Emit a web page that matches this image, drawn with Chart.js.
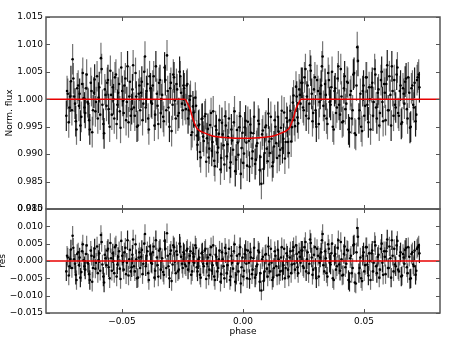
<!DOCTYPE html>
<html>
<head>
<meta charset="utf-8">
<script src="https://cdn.jsdelivr.net/npm/chart.js@4.4.0/dist/chart.umd.min.js"></script>
<style>
  html, body { margin: 0; padding: 0; background: #fff; }
  #wrap { position: relative; width: 463px; height: 348px; }
  #wrap canvas { position: absolute; left: 0; top: 0; }
</style>
</head>
<body>
<div id="wrap">
  <canvas id="fluxChart" width="463" height="348"></canvas>
  <canvas id="resChart" width="463" height="348"></canvas>
</div>
<script>
// first visit: phase, normalised flux, residual (data - model)
var PHASE_1 = [
  -0.0730, -0.0724, -0.0717, -0.0711, -0.0704, -0.0698, -0.0691, -0.0685, -0.0678, -0.0672,
  -0.0665, -0.0659, -0.0652, -0.0646, -0.0639, -0.0633, -0.0626, -0.0620, -0.0613, -0.0607,
  -0.0600, -0.0594, -0.0587, -0.0581, -0.0574, -0.0568, -0.0561, -0.0555, -0.0548, -0.0542,
  -0.0535, -0.0529, -0.0522, -0.0516, -0.0509, -0.0503, -0.0496, -0.0490, -0.0483, -0.0477,
  -0.0470, -0.0464, -0.0457, -0.0451, -0.0444, -0.0438, -0.0431, -0.0425, -0.0418, -0.0412,
  -0.0405, -0.0399, -0.0392, -0.0386, -0.0379, -0.0373, -0.0366, -0.0360, -0.0353, -0.0347,
  -0.0340, -0.0334, -0.0327, -0.0321, -0.0314, -0.0308, -0.0301, -0.0295, -0.0288, -0.0282,
  -0.0275, -0.0269, -0.0262, -0.0256, -0.0249,
  -0.0243, -0.0236, -0.0230, -0.0223, -0.0217, -0.0210, -0.0204, -0.0197, -0.0191, -0.0184,
  -0.0178, -0.0171, -0.0165, -0.0158, -0.0152, -0.0145, -0.0139, -0.0132, -0.0126, -0.0119,
  -0.0113, -0.0106, -0.0100, -0.0093, -0.0087, -0.0080, -0.0074, -0.0067, -0.0061, -0.0054,
  -0.0048, -0.0041, -0.0035, -0.0028, -0.0022, -0.0015, -0.0009, -0.0002, 0.0004, 0.0011,
  0.0017, 0.0024, 0.0030, 0.0037, 0.0043, 0.0050, 0.0056, 0.0063, 0.0069, 0.0076,
  0.0082, 0.0089, 0.0095, 0.0102, 0.0108, 0.0115, 0.0121, 0.0128, 0.0134, 0.0141,
  0.0147, 0.0154, 0.0160, 0.0167, 0.0173, 0.0180, 0.0186, 0.0193, 0.0199, 0.0206,
  0.0212, 0.0219, 0.0225, 0.0232, 0.0238,
  0.0245, 0.0251, 0.0258, 0.0264, 0.0271, 0.0277, 0.0284, 0.0290, 0.0297, 0.0303,
  0.0310, 0.0316, 0.0323, 0.0329, 0.0336, 0.0342, 0.0349, 0.0355, 0.0362, 0.0368,
  0.0375, 0.0381, 0.0388, 0.0394, 0.0401, 0.0407, 0.0414, 0.0420, 0.0427, 0.0433,
  0.0440, 0.0446, 0.0453, 0.0459, 0.0466, 0.0472, 0.0479, 0.0485, 0.0492, 0.0498,
  0.0505, 0.0511, 0.0518, 0.0524, 0.0531, 0.0537, 0.0544, 0.0550, 0.0557, 0.0563,
  0.0570, 0.0576, 0.0583, 0.0589, 0.0596, 0.0602, 0.0609, 0.0615, 0.0622, 0.0628,
  0.0635, 0.0641, 0.0648, 0.0654, 0.0661, 0.0667, 0.0674, 0.0680, 0.0687, 0.0693,
  0.0700, 0.0706, 0.0713, 0.0719, 0.0726
];
var FLUX_1 = [
  0.9970, 1.0010, 0.9985, 1.0033, 1.0073, 1.0005, 0.9960, 1.0020, 0.9988, 0.9952,
  1.0028, 1.0002, 0.9975, 1.0045, 0.9992, 0.9945, 1.0015, 0.9980, 1.0036, 0.9995,
  0.9965, 1.0022, 1.0075, 0.9990, 0.9938, 1.0008, 1.0030, 0.9982, 1.0052, 0.9972,
  1.0000, 1.0040, 0.9955, 1.0012, 0.9978, 1.0058, 0.9997, 1.0025, 0.9962, 1.0060,
  1.0005, 0.9970, 1.0018, 0.9985, 1.0048, 0.9950, 1.0010, 0.9980, 1.0032, 0.9992,
  1.0078, 1.0015, 0.9965, 1.0042, 0.9995, 1.0025, 0.9952, 1.0060, 0.9988, 1.0030,
  0.9975, 1.0008, 0.9960, 1.0035, 1.0080, 0.9985, 1.0020, 0.9942, 1.0045, 0.9998,
  1.0028, 0.9970, 1.0050, 1.0012, 0.9980,
  1.0020, 0.9982, 1.0028, 0.9980, 1.0006, 0.9940, 0.9976, 1.0003, 0.9934, 0.9952,
  0.9904, 0.9964, 0.9932, 0.9969, 0.9886, 0.9946, 0.9910, 0.9975, 0.9922, 0.9888,
  0.9951, 0.9903, 0.9937, 0.9872, 0.9957, 0.9916, 0.9969, 0.9896, 0.9931, 0.9875,
  0.9945, 0.9908, 0.9978, 0.9890, 0.9921, 0.9949, 0.9864, 0.9939, 0.9901, 0.9961,
  0.9879, 0.9924, 0.9954, 0.9892, 0.9938, 0.9882, 0.9915, 0.9961, 0.9871, 0.9846,
  0.9943, 0.9902, 0.9952, 0.9887, 0.9923, 0.9968, 0.9878, 0.9914, 0.9950, 0.9893,
  0.9941, 0.9908, 0.9979, 0.9928, 0.9892, 0.9966, 0.9922, 0.9962, 0.9923, 0.9994,
  0.9962, 1.0023, 0.9967, 1.0018, 0.9992,
  1.0030, 0.9980, 1.0055, 1.0005, 0.9965, 1.0062, 1.0010, 0.9975, 1.0040, 0.9950,
  1.0015, 0.9995, 1.0025, 1.0078, 0.9970, 1.0008, 0.9955, 1.0035, 0.9990, 1.0050,
  0.9945, 1.0020, 0.9985, 1.0060, 0.9972, 1.0005, 0.9960, 1.0042, 0.9992, 1.0030,
  0.9940, 1.0015, 0.9980, 1.0048, 0.9935, 1.0095, 0.9965, 1.0010, 0.9942, 1.0025,
  0.9988, 1.0040, 0.9958, 1.0000, 1.0022, 0.9970, 1.0055, 0.9985, 1.0012, 0.9952,
  1.0035, 0.9995, 1.0028, 0.9962, 1.0062, 0.9980, 1.0008, 1.0060, 0.9970, 0.9990,
  1.0045, 0.9975, 1.0015, 0.9955, 1.0020, 0.9992, 1.0038, 0.9965, 1.0012, 0.9950,
  1.0025, 0.9985, 0.9960, 1.0035, 1.0045
];
var RESID_1 = [
  -0.0030, 0.0010, -0.0015, 0.0033, 0.0073, 0.0005, -0.0040, 0.0020, -0.0012, -0.0048,
  0.0028, 0.0002, -0.0025, 0.0045, -0.0008, -0.0055, 0.0015, -0.0020, 0.0036, -0.0005,
  -0.0035, 0.0022, 0.0075, -0.0010, -0.0062, 0.0008, 0.0030, -0.0018, 0.0052, -0.0028,
  0.0000, 0.0040, -0.0045, 0.0012, -0.0022, 0.0058, -0.0003, 0.0025, -0.0038, 0.0060,
  0.0005, -0.0030, 0.0018, -0.0015, 0.0048, -0.0050, 0.0010, -0.0020, 0.0032, -0.0008,
  0.0078, 0.0015, -0.0035, 0.0042, -0.0005, 0.0025, -0.0048, 0.0060, -0.0012, 0.0030,
  -0.0025, 0.0008, -0.0040, 0.0035, 0.0080, -0.0015, 0.0020, -0.0058, 0.0045, -0.0002,
  0.0028, -0.0030, 0.0050, 0.0012, -0.0020,
  0.0020, -0.0015, 0.0035, -0.0005, 0.0028, -0.0030, 0.0012, 0.0045, -0.0018, 0.0005,
  -0.0040, 0.0022, -0.0008, 0.0030, -0.0052, 0.0010, -0.0025, 0.0040, -0.0012, -0.0045,
  0.0018, -0.0030, 0.0005, -0.0060, 0.0025, -0.0015, 0.0038, -0.0035, 0.0000, -0.0055,
  0.0015, -0.0022, 0.0048, -0.0040, -0.0008, 0.0020, -0.0065, 0.0010, -0.0028, 0.0032,
  -0.0050, -0.0005, 0.0025, -0.0038, 0.0008, -0.0048, -0.0015, 0.0030, -0.0060, -0.0085,
  0.0012, -0.0030, 0.0020, -0.0045, -0.0010, 0.0035, -0.0055, -0.0020, 0.0015, -0.0042,
  0.0005, -0.0030, 0.0040, -0.0012, -0.0050, 0.0022, -0.0025, 0.0010, -0.0035, 0.0030,
  -0.0008, 0.0045, -0.0018, 0.0025, -0.0005,
  0.0030, -0.0020, 0.0055, 0.0005, -0.0035, 0.0062, 0.0010, -0.0025, 0.0040, -0.0050,
  0.0015, -0.0005, 0.0025, 0.0078, -0.0030, 0.0008, -0.0045, 0.0035, -0.0010, 0.0050,
  -0.0055, 0.0020, -0.0015, 0.0060, -0.0028, 0.0005, -0.0040, 0.0042, -0.0008, 0.0030,
  -0.0060, 0.0015, -0.0020, 0.0048, -0.0065, 0.0095, -0.0035, 0.0010, -0.0058, 0.0025,
  -0.0012, 0.0040, -0.0042, 0.0000, 0.0022, -0.0030, 0.0055, -0.0015, 0.0012, -0.0048,
  0.0035, -0.0005, 0.0028, -0.0038, 0.0062, -0.0020, 0.0008, 0.0060, -0.0030, -0.0010,
  0.0045, -0.0025, 0.0015, -0.0045, 0.0020, -0.0008, 0.0038, -0.0035, 0.0012, -0.0050,
  0.0025, -0.0015, -0.0040, 0.0035, 0.0045
];

// second visit
var PHASE_2 = [
  -0.0727, -0.0720, -0.0714, -0.0707, -0.0701, -0.0694, -0.0688, -0.0681, -0.0675, -0.0668,
  -0.0662, -0.0655, -0.0649, -0.0642, -0.0636, -0.0629, -0.0623, -0.0616, -0.0610, -0.0603,
  -0.0597, -0.0590, -0.0584, -0.0577, -0.0571, -0.0564, -0.0558, -0.0551, -0.0545, -0.0538,
  -0.0532, -0.0525, -0.0519, -0.0512, -0.0506, -0.0499, -0.0493, -0.0486, -0.0480, -0.0473,
  -0.0467, -0.0460, -0.0454, -0.0447, -0.0441, -0.0434, -0.0428, -0.0421, -0.0415, -0.0408,
  -0.0402, -0.0395, -0.0389, -0.0382, -0.0376, -0.0369, -0.0363, -0.0356, -0.0350, -0.0343,
  -0.0337, -0.0330, -0.0324, -0.0317, -0.0311, -0.0304, -0.0298, -0.0291, -0.0285, -0.0278,
  -0.0272, -0.0265, -0.0259, -0.0252, -0.0246,
  -0.0240, -0.0233, -0.0227, -0.0220, -0.0214, -0.0207, -0.0201, -0.0194, -0.0188, -0.0181,
  -0.0175, -0.0168, -0.0162, -0.0155, -0.0149, -0.0142, -0.0136, -0.0129, -0.0123, -0.0116,
  -0.0110, -0.0103, -0.0097, -0.0090, -0.0084, -0.0077, -0.0071, -0.0064, -0.0058, -0.0051,
  -0.0045, -0.0038, -0.0032, -0.0025, -0.0019, -0.0012, -0.0006, 0.0001, 0.0007, 0.0014,
  0.0020, 0.0027, 0.0033, 0.0040, 0.0046, 0.0053, 0.0059, 0.0066, 0.0072, 0.0079,
  0.0085, 0.0092, 0.0098, 0.0105, 0.0111, 0.0118, 0.0124, 0.0131, 0.0137, 0.0144,
  0.0150, 0.0157, 0.0163, 0.0170, 0.0176, 0.0183, 0.0189, 0.0196, 0.0202, 0.0209,
  0.0215, 0.0222, 0.0228, 0.0235, 0.0241,
  0.0248, 0.0254, 0.0261, 0.0267, 0.0274, 0.0280, 0.0287, 0.0293, 0.0300, 0.0306,
  0.0313, 0.0319, 0.0326, 0.0332, 0.0339, 0.0345, 0.0352, 0.0358, 0.0365, 0.0371,
  0.0378, 0.0384, 0.0391, 0.0397, 0.0404, 0.0410, 0.0417, 0.0423, 0.0430, 0.0436,
  0.0443, 0.0449, 0.0456, 0.0462, 0.0469, 0.0475, 0.0482, 0.0488, 0.0495, 0.0501,
  0.0508, 0.0514, 0.0521, 0.0527, 0.0534, 0.0540, 0.0547, 0.0553, 0.0560, 0.0566,
  0.0573, 0.0579, 0.0586, 0.0592, 0.0599, 0.0605, 0.0612, 0.0618, 0.0625, 0.0631,
  0.0638, 0.0644, 0.0651, 0.0657, 0.0664, 0.0670, 0.0677, 0.0683, 0.0690, 0.0696,
  0.0703, 0.0709, 0.0716, 0.0722, 0.0729
];
var FLUX_2 = [
  1.0015, 0.9958, 1.0005, 0.9980, 1.0038, 0.9992, 0.9945, 1.0025, 1.0010, 0.9968,
  1.0048, 0.9985, 1.0020, 0.9995, 0.9962, 1.0030, 0.9940, 1.0012, 0.9978, 1.0042,
  1.0003, 0.9972, 1.0055, 0.9955, 1.0018, 0.9988, 1.0035, 0.9950, 1.0008, 1.0022,
  0.9965, 1.0045, 0.9990, 1.0028, 0.9948, 1.0015, 0.9975, 1.0038, 0.9995, 0.9958,
  1.0032, 0.9982, 1.0062, 0.9970, 1.0005, 0.9952, 1.0025, 1.0012, 0.9962, 1.0050,
  0.9985, 1.0028, 0.9945, 1.0020, 0.9992, 1.0042, 0.9972, 1.0010, 0.9955, 1.0035,
  1.0000, 0.9968, 1.0058, 0.9980, 1.0015, 0.9950, 1.0030, 0.9990, 1.0040, 0.9965,
  1.0018, 0.9975, 1.0042, 0.9992, 1.0025,
  0.9990, 1.0025, 0.9965, 0.9999, 0.9935, 0.9987, 0.9953, 0.9988, 0.9917, 0.9954,
  0.9894, 0.9965, 0.9924, 0.9973, 0.9929, 0.9894, 0.9953, 0.9906, 0.9978, 0.9878,
  0.9944, 0.9912, 0.9962, 0.9893, 0.9936, 0.9881, 0.9952, 0.9918, 0.9965, 0.9885,
  0.9925, 0.9958, 0.9869, 0.9944, 0.9899, 0.9969, 0.9911, 0.9884, 0.9949, 0.9921,
  0.9959, 0.9877, 0.9939, 0.9905, 0.9968, 0.9890, 0.9920, 0.9955, 0.9895, 0.9936,
  0.9873, 0.9949, 0.9910, 0.9974, 0.9902, 0.9928, 0.9885, 0.9962, 0.9920, 0.9968,
  0.9897, 0.9948, 0.9911, 0.9976, 0.9922, 0.9959, 0.9902, 0.9979, 0.9949, 1.0007,
  0.9951, 1.0005, 0.9956, 1.0008, 1.0030,
  0.9985, 1.0040, 0.9970, 1.0025, 0.9992, 1.0052, 0.9960, 1.0018, 0.9980, 1.0035,
  0.9955, 1.0010, 1.0060, 0.9988, 1.0028, 0.9965, 1.0048, 0.9995, 1.0022, 0.9950,
  1.0015, 0.9975, 1.0038, 0.9990, 1.0055, 0.9958, 1.0020, 0.9982, 1.0032, 0.9945,
  1.0008, 0.9965, 1.0045, 0.9938, 1.0025, 1.0070, 0.9980, 0.9950, 1.0015, 0.9970,
  1.0040, 0.9990, 1.0022, 0.9945, 1.0030, 0.9995, 1.0045, 0.9965, 1.0018, 0.9975,
  1.0050, 0.9960, 1.0012, 1.0028, 0.9980, 1.0042, 0.9952, 1.0015, 1.0035, 0.9985,
  1.0058, 0.9970, 1.0025, 0.9958, 1.0010, 1.0032, 0.9982, 1.0040, 0.9948, 1.0020,
  0.9990, 1.0030, 0.9972, 1.0040, 1.0022
];
var RESID_2 = [
  0.0015, -0.0042, 0.0005, -0.0020, 0.0038, -0.0008, -0.0055, 0.0025, 0.0010, -0.0032,
  0.0048, -0.0015, 0.0020, -0.0005, -0.0038, 0.0030, -0.0060, 0.0012, -0.0022, 0.0042,
  0.0003, -0.0028, 0.0055, -0.0045, 0.0018, -0.0012, 0.0035, -0.0050, 0.0008, 0.0022,
  -0.0035, 0.0045, -0.0010, 0.0028, -0.0052, 0.0015, -0.0025, 0.0038, -0.0005, -0.0042,
  0.0032, -0.0018, 0.0062, -0.0030, 0.0005, -0.0048, 0.0025, 0.0012, -0.0038, 0.0050,
  -0.0015, 0.0028, -0.0055, 0.0020, -0.0008, 0.0042, -0.0028, 0.0010, -0.0045, 0.0035,
  0.0000, -0.0032, 0.0058, -0.0020, 0.0015, -0.0050, 0.0030, -0.0010, 0.0040, -0.0035,
  0.0018, -0.0025, 0.0042, -0.0008, 0.0025,
  -0.0010, 0.0030, -0.0025, 0.0015, -0.0040, 0.0022, -0.0005, 0.0038, -0.0030, 0.0010,
  -0.0048, 0.0025, -0.0015, 0.0035, -0.0008, -0.0042, 0.0018, -0.0028, 0.0045, -0.0055,
  0.0012, -0.0020, 0.0030, -0.0038, 0.0005, -0.0050, 0.0022, -0.0012, 0.0035, -0.0045,
  -0.0005, 0.0028, -0.0060, 0.0015, -0.0030, 0.0040, -0.0018, -0.0045, 0.0020, -0.0008,
  0.0030, -0.0052, 0.0010, -0.0025, 0.0038, -0.0040, -0.0010, 0.0025, -0.0035, 0.0005,
  -0.0058, 0.0018, -0.0022, 0.0042, -0.0030, -0.0005, -0.0048, 0.0028, -0.0015, 0.0032,
  -0.0040, 0.0010, -0.0028, 0.0035, -0.0020, 0.0015, -0.0045, 0.0028, -0.0010, 0.0040,
  -0.0025, 0.0020, -0.0035, 0.0012, 0.0030,
  -0.0015, 0.0040, -0.0030, 0.0025, -0.0008, 0.0052, -0.0040, 0.0018, -0.0020, 0.0035,
  -0.0045, 0.0010, 0.0060, -0.0012, 0.0028, -0.0035, 0.0048, -0.0005, 0.0022, -0.0050,
  0.0015, -0.0025, 0.0038, -0.0010, 0.0055, -0.0042, 0.0020, -0.0018, 0.0032, -0.0055,
  0.0008, -0.0035, 0.0045, -0.0062, 0.0025, 0.0070, -0.0020, -0.0050, 0.0015, -0.0030,
  0.0040, -0.0010, 0.0022, -0.0055, 0.0030, -0.0005, 0.0045, -0.0035, 0.0018, -0.0025,
  0.0050, -0.0040, 0.0012, 0.0028, -0.0020, 0.0042, -0.0048, 0.0015, 0.0035, -0.0015,
  0.0058, -0.0030, 0.0025, -0.0042, 0.0010, 0.0032, -0.0018, 0.0040, -0.0052, 0.0020,
  -0.0010, 0.0030, -0.0028, 0.0040, 0.0022
];

// one-sigma error on each point
var FLUX_ERR = 0.0028;

// transit model curve
var MODEL_PHASE = [-0.0814, -0.0240, -0.0230, -0.0220, -0.0208, -0.0193, -0.0180, -0.0166, -0.0125, -0.0063,
  0.0000, 0.0063, 0.0125, 0.0166, 0.0180, 0.0193, 0.0208, 0.0220, 0.0230, 0.0240, 0.0814];
var MODEL_FLUX = [1.0000, 1.0000, 0.9993, 0.9984, 0.9966, 0.9949, 0.9943, 0.9940, 0.9933, 0.9930,
  0.9929, 0.9930, 0.9933, 0.9940, 0.9943, 0.9949, 0.9966, 0.9984, 0.9993, 1.0000, 1.0000];

var X_MIN = -0.0814, X_MAX = 0.0814;
var X_TICKS = [-0.05, 0.00, 0.05];
var FLUX_TICKS = [0.980, 0.985, 0.990, 0.995, 1.000, 1.005, 1.010, 1.015];
var RES_TICKS = [-0.015, -0.010, -0.005, 0.000, 0.005, 0.010, 0.015];

Chart.defaults.font.family = 'DejaVu Sans';
Chart.defaults.font.size = 9;
Chart.defaults.color = '#000';

function fmt(v, d) {
  if (Math.abs(v) < 1e-12) return (0).toFixed(d);
  return (v < 0 ? '\u2212' : '') + Math.abs(v).toFixed(d);
}

// vertical error bars under the points
var errorBars = {
  id: 'errorBars',
  beforeDatasetsDraw: function (chart, args, opts) {
    var ctx = chart.ctx, x = chart.scales.x, y = chart.scales.y, a = chart.chartArea;
    ctx.save();
    ctx.beginPath();
    ctx.rect(a.left, a.top, a.width, a.height);
    ctx.clip();
    ctx.lineWidth = 1.2;
    opts.sets.forEach(function (set, k) {
      var ph = set[0], ys = set[1];
      for (var i = 0; i < ph.length; i++) {
        var px = x.getPixelForValue(ph[i]);
        ctx.strokeStyle = (i + k) % 3 === 0 ? 'rgba(0,0,0,0.9)' : 'rgba(0,0,0,0.55)';
        ctx.beginPath();
        ctx.moveTo(px, y.getPixelForValue(ys[i] + FLUX_ERR));
        ctx.lineTo(px, y.getPixelForValue(ys[i] - FLUX_ERR));
        ctx.stroke();
      }
    });
    ctx.restore();
  }
};

// box and inward ticks, matplotlib style
var frame = {
  id: 'frame',
  afterDatasetsDraw: function (chart, args, opts) {
    var ctx = chart.ctx, x = chart.scales.x, y = chart.scales.y, a = chart.chartArea;
    ctx.save();
    ctx.strokeStyle = '#555';
    ctx.lineWidth = 1;
    ctx.beginPath();
    X_TICKS.forEach(function (v) {
      var px = Math.round(x.getPixelForValue(v)) + 0.5;
      ctx.moveTo(px, a.top); ctx.lineTo(px, a.top + 4);
      ctx.moveTo(px, a.bottom); ctx.lineTo(px, a.bottom - 4);
    });
    opts.yTicks.forEach(function (v) {
      var py = Math.round(y.getPixelForValue(v)) + 0.5;
      ctx.moveTo(a.left, py); ctx.lineTo(a.left + 4, py);
      ctx.moveTo(a.right, py); ctx.lineTo(a.right - 4, py);
    });
    ctx.stroke();
    ctx.lineWidth = 1.5;
    ctx.strokeRect(a.left, a.top, a.right - a.left, a.bottom - a.top);
    ctx.restore();
  }
};

function points(ph, ys) {
  return ph.map(function (p, i) { return { x: p, y: ys[i] }; });
}

function dots(data) {
  return { data: data, backgroundColor: '#000', borderWidth: 0, pointRadius: 1.3, order: 1 };
}

// upper panel: light curve with model
new Chart(document.getElementById('fluxChart'), {
  type: 'scatter',
  data: {
    datasets: [{
      type: 'line',
      data: points(MODEL_PHASE, MODEL_FLUX),
      borderColor: '#e80000',
      borderWidth: 1.5,
      pointRadius: 0,
      cubicInterpolationMode: 'monotone',
      order: 0
    }, dots(points(PHASE_1, FLUX_1)), dots(points(PHASE_2, FLUX_2))]
  },
  options: {
    responsive: false,
    animation: false,
    layout: { padding: { top: 17, right: 23, left: 0, bottom: 0 } },
    plugins: {
      legend: { display: false },
      tooltip: { enabled: false },
      errorBars: { sets: [[PHASE_1, FLUX_1], [PHASE_2, FLUX_2]] },
      frame: { yTicks: FLUX_TICKS }
    },
    scales: {
      x: {
        type: 'linear', min: X_MIN, max: X_MAX,
        ticks: { display: false },
        grid: { display: false, drawTicks: false },
        border: { display: false },
        afterFit: function (s) { s.height = 139; }
      },
      y: {
        min: 0.980, max: 1.015,
        afterBuildTicks: function (s) { s.ticks = FLUX_TICKS.map(function (v) { return { value: v }; }); },
        ticks: { padding: 3, callback: function (v) { return fmt(v, 3); } },
        grid: { display: false, drawTicks: false },
        border: { display: false },
        title: { display: true, text: 'Norm. flux', padding: { top: 4, bottom: 0 } },
        afterFit: function (s) { s.width = 46; }
      }
    }
  },
  plugins: [errorBars, frame]
});

// lower panel: residuals
new Chart(document.getElementById('resChart'), {
  type: 'scatter',
  data: {
    datasets: [{
      type: 'line',
      data: [{ x: X_MIN, y: 0 }, { x: X_MAX, y: 0 }],
      borderColor: '#e80000',
      borderWidth: 1.5,
      pointRadius: 0,
      order: 0
    }, dots(points(PHASE_1, RESID_1)), dots(points(PHASE_2, RESID_2))]
  },
  options: {
    responsive: false,
    animation: false,
    layout: { padding: { top: 209, right: 23, left: 0, bottom: 0 } },
    plugins: {
      legend: { display: false },
      tooltip: { enabled: false },
      errorBars: { sets: [[PHASE_1, RESID_1], [PHASE_2, RESID_2]] },
      frame: { yTicks: RES_TICKS }
    },
    scales: {
      x: {
        type: 'linear', min: X_MIN, max: X_MAX,
        afterBuildTicks: function (s) { s.ticks = X_TICKS.map(function (v) { return { value: v }; }); },
        ticks: { padding: 3, maxRotation: 0, callback: function (v) { return fmt(v, 2); } },
        grid: { display: false, drawTicks: false },
        border: { display: false },
        title: { display: true, text: 'phase', padding: { top: 0, bottom: 11 } },
        afterFit: function (s) { s.height = 35; }
      },
      y: {
        min: -0.015, max: 0.015,
        afterBuildTicks: function (s) { s.ticks = RES_TICKS.map(function (v) { return { value: v }; }); },
        ticks: { padding: 3, callback: function (v) { return fmt(v, 3); } },
        grid: { display: false, drawTicks: false },
        border: { display: false },
        title: { display: true, text: 'res', padding: { top: -3, bottom: 0 } },
        afterFit: function (s) { s.width = 46; }
      }
    }
  },
  plugins: [errorBars, frame]
});
</script>
</body>
</html>
